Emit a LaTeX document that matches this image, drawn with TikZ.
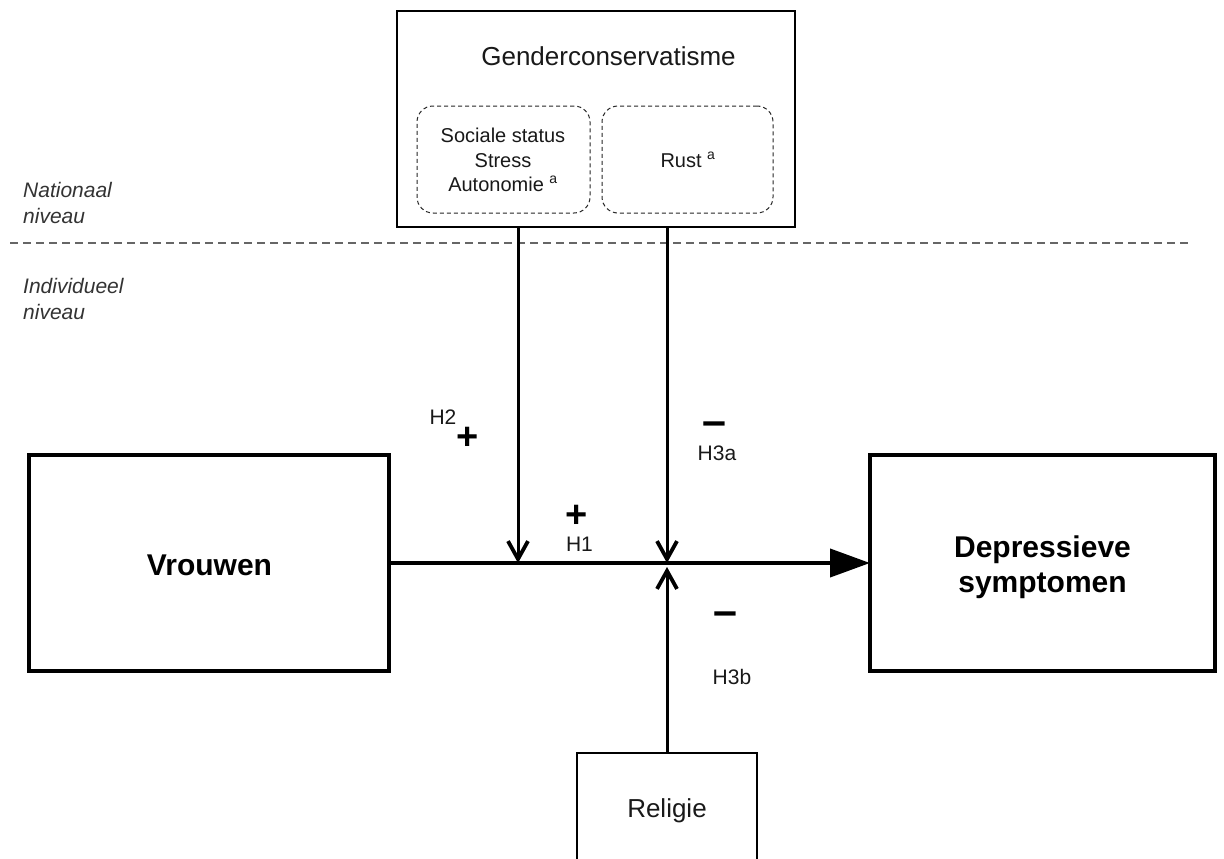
\documentclass[tikz,border=0pt]{standalone}
\usepackage{fontspec}
\setmainfont{Liberation Sans}
\usetikzlibrary{arrows.meta}
\begin{document}
\begin{tikzpicture}[x=1pt,y=-1pt,
  solidbox/.style={draw=black, inner sep=0pt, outer sep=0pt},
  subbox/.style={draw=black!85, line width=1pt, dash pattern=on 4pt off 3pt, rounded corners=16pt, inner sep=0pt, outer sep=0pt},
  boxtext/.style={inner sep=0pt, anchor=base, font=\fontsize{26}{30}\selectfont, text=black!90},
  subtext/.style={inner sep=0pt, anchor=base, font=\fontsize{20}{24}\selectfont, text=black!90},
  bigtext/.style={inner sep=0pt, anchor=base, font=\fontsize{30}{35}\selectfont\bfseries},
  hlabel/.style={inner sep=0pt, anchor=base, font=\fontsize{21}{25}\selectfont, text=black!90},
  pluslabel/.style={inner sep=0pt, anchor=base, font=\fontsize{38}{40}\selectfont\bfseries},
  minuslabel/.style={inner sep=0pt, anchor=base, font=\fontsize{43}{45}\selectfont\bfseries},
  levellabel/.style={inner sep=0pt, anchor=base west, font=\fontsize{21}{25}\selectfont\itshape, text=black!80},
  levelline/.style={draw=black!60, line width=1.5pt, dash pattern=on 8pt off 5pt},
  modarrow/.style={line width=3pt, -{Straight Barb[length=18pt,width=20pt,line width=3.8pt]}},
  mainarrow/.style={line width=4pt, -{Triangle[length=40pt,width=28pt]}}
]
\useasboundingbox (0,0) rectangle (1224,859);
\clip (0,0) rectangle (1224,859);

% level labels and divider
\node[levellabel] (nat1) at (23,197) {Nationaal};
\node[levellabel] (nat2) at (23,223) {niveau};
\node[levellabel] (ind1) at (23,293) {Individueel};
\node[levellabel] (ind2) at (23,319) {niveau};
\coordinate (ll) at (10,243);
\coordinate (lr) at (1192,243);
\draw[levelline] (ll) -- (lr);

% top box
\node[solidbox, line width=2pt, minimum width=398pt, minimum height=216pt, fill=white] (gc) at (596,119) {};
\node[boxtext] (gctitle) at (608.5,66) {Genderconservatisme};
\node[subbox, minimum width=173pt, minimum height=107pt] (sub1) at (503.5,159.5) {};
\node[subbox, minimum width=171pt, minimum height=107pt] (sub2) at (687.5,159.5) {};
\node[subtext] (s1a) at (503,142) {Sociale status};
\node[subtext] (s1b) at (503,167) {Stress};
\node[subtext] (s1c) at (503,191) {Autonomie \textsuperscript{a}};
\node[subtext] (s2a) at (688,167) {Rust \textsuperscript{a}};

% main boxes
\node[solidbox, line width=4pt, minimum width=360pt, minimum height=216pt] (vr) at (209,563) {};
\node[bigtext] (vrtext) at (209.5,575) {Vrouwen};
\node[solidbox, line width=4pt, minimum width=345pt, minimum height=216pt] (dep) at (1042.5,563) {};
\node[bigtext] (deptext1) at (1042.5,557) {Depressieve};
\node[bigtext] (deptext2) at (1042.5,592) {symptomen};

% religion box
\node[solidbox, line width=2pt, minimum width=180pt, minimum height=147pt] (rel) at (667,826.5) {};
\node[boxtext] (reltext) at (667,817) {Religie};

% connectors
\coordinate (j1) at (518,563);
\coordinate (j2) at (667,563);
\coordinate (j2b) at (667,567);
\draw[mainarrow] (vr.east) -- (dep.west);
\draw[modarrow] (gc.south -| j1) -- (j1);
\draw[modarrow] (gc.south -| j2) -- (j2);
\draw[modarrow] (rel.north) -- (j2b);

% hypothesis labels
\node[hlabel] (h2) at (443,424) {H2};
\node[pluslabel] (h2s) at (468,449) {+};
\node[pluslabel] (h1s) at (577,527) {+};
\node[hlabel] (h1) at (579.5,551) {H1};
\node[minuslabel] (h3as) at (714,435) {–};
\node[hlabel] (h3a) at (717,460) {H3a};
\node[minuslabel] (h3bs) at (725,625) {–};
\node[hlabel] (h3b) at (732,684) {H3b};
\end{tikzpicture}
\end{document}
